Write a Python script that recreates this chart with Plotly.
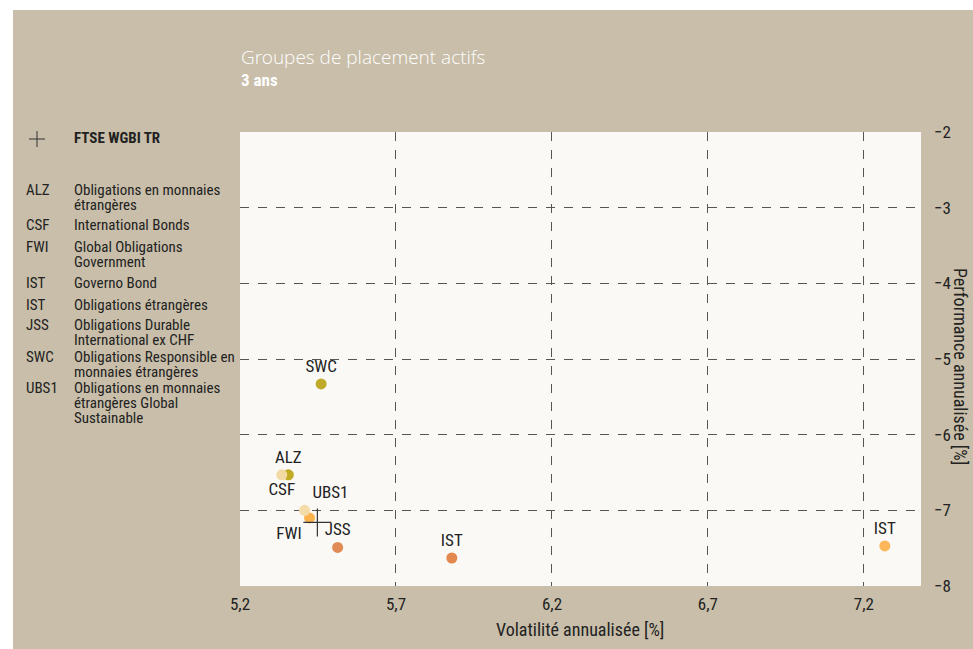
import plotly.graph_objects as go

# ---- data ----
codes = ["ALZ", "CSF", "FWI", "IST", "IST", "JSS", "SWC", "UBS1"]
descriptions = [
    "Obligations en monnaies<br>étrangères",
    "International Bonds",
    "Global Obligations<br>Government",
    "Governo Bond",
    "Obligations étrangères",
    "Obligations Durable<br>International ex CHF",
    "Obligations Responsible en<br>monnaies étrangères",
    "Obligations en monnaies<br>étrangères Global<br>Sustainable",
]
volatility = [5.355, 5.334, 5.423, 7.267, 5.879, 5.513, 5.460, 5.407]
performance = [-6.53, -6.53, -7.10, -7.47, -7.63, -7.49, -5.33, -7.00]
colors = ["#C2AB24", "#F2DAA2", "#FBB34E", "#FDB65A", "#E3894F", "#E28A56", "#C0AA2A", "#F3DCA8"]
label_pos = ["top center", "bottom center", "bottom left", "top center", "top center",
             "top center", "top center", "top right"]

benchmark_name = "FTSE WGBI TR"
benchmark_x = [5.448]
benchmark_y = [-7.16]

x_ticks = [5.2, 5.7, 6.2, 6.7, 7.2]
y_ticks = [-8, -7, -6, -5, -4, -3, -2]

title = "Groupes de placement actifs"
subtitle = "3 ans"
x_title = "Volatilité annualisée [%]"
y_title = "Performance annualisée [%]"

# ---- layout constants ----
W, H = 973, 649
L, R, T, B = 240, 52, 132, 63
PW, PH = W - L - R, H - T - B
BEIGE = "#C8BEA9"
FONT = "Liberation Sans Narrow, Arial Narrow, Roboto Condensed, sans-serif"
TXT = "#222222"


def px_x(px):
    return (px - L) / PW


def px_y(py):
    return 1 - (py - T) / PH


fig = go.Figure()

fig.add_trace(go.Scatter(
    x=volatility, y=performance, mode="markers+text",
    text=codes, textposition=label_pos,
    textfont=dict(family=FONT, size=17, color=TXT),
    marker=dict(size=11, color=colors, line=dict(width=0)),
    hoverinfo="text", hovertext=descriptions, showlegend=False,
))

fig.add_trace(go.Scatter(
    x=benchmark_x, y=benchmark_y, mode="markers",
    marker=dict(symbol="cross-thin-open", size=20, color="#333333",
                line=dict(width=1.2, color="#333333")),
    name=benchmark_name, showlegend=False,
))

annotations = []
# title
annotations.append(dict(xref="paper", yref="paper", x=px_x(239), y=px_y(57), xanchor="left",
                        yanchor="middle", text=title, showarrow=False,
                        font=dict(family="Open Sans Light, Open Sans, sans-serif", size=19, color="white")))
annotations.append(dict(xref="paper", yref="paper", x=px_x(239), y=px_y(80), xanchor="left",
                        yanchor="middle", text="<b>" + subtitle + "</b>", showarrow=False,
                        font=dict(family=FONT, size=17, color="white")))

# legend (left)
annotations.append(dict(xref="paper", yref="paper", x=px_x(72), y=px_y(138), xanchor="left",
                        yanchor="middle", text="<b>" + benchmark_name + "</b>", showarrow=False,
                        font=dict(family=FONT, size=15, color=TXT)))
legend_centers = [190, 225, 247, 283, 305, 325, 357, 388]
LINE = 15
for code, desc, yc in zip(codes, descriptions, legend_centers):
    annotations.append(dict(xref="paper", yref="paper", x=px_x(24), y=px_y(yc), xanchor="left",
                            yanchor="middle", text=code, showarrow=False,
                            font=dict(family=FONT, size=15, color=TXT)))
    for i, line in enumerate(desc.split("<br>")):
        annotations.append(dict(xref="paper", yref="paper", x=px_x(72), y=px_y(yc + i * LINE),
                                xanchor="left", yanchor="middle", text=line, showarrow=False,
                                font=dict(family=FONT, size=15, color=TXT)))

# axis titles
annotations.append(dict(xref="paper", yref="paper", x=px_x(580), y=px_y(629), xanchor="center",
                        yanchor="middle", text=x_title, showarrow=False,
                        font=dict(family=FONT, size=18, color=TXT)))
annotations.append(dict(xref="paper", yref="paper", x=px_x(961), y=px_y(366), xanchor="center",
                        yanchor="middle", text=y_title, showarrow=False, textangle=90,
                        font=dict(family=FONT, size=18, color=TXT)))

shapes = [
    dict(type="rect", xref="paper", yref="paper", x0=px_x(-5), x1=px_x(978), y0=px_y(-5), y1=px_y(10),
         fillcolor="white", line=dict(width=0), layer="below"),
    dict(type="rect", xref="paper", yref="paper", x0=px_x(-5), x1=px_x(13), y0=px_y(-5), y1=px_y(655),
         fillcolor="white", line=dict(width=0), layer="below"),
    # legend glyph for the benchmark cross
    dict(type="line", xref="paper", yref="paper", x0=px_x(29), x1=px_x(45), y0=px_y(139), y1=px_y(139),
         line=dict(width=1, color="#333333")),
    dict(type="line", xref="paper", yref="paper", x0=px_x(37), x1=px_x(37), y0=px_y(131), y1=px_y(147),
         line=dict(width=1, color="#333333")),
]

fig.update_layout(
    width=W, height=H, autosize=False,
    margin=dict(l=L, r=R, t=T, b=B, pad=0),
    paper_bgcolor=BEIGE, plot_bgcolor="#FAF9F6",
    separators=", ",
    font=dict(family=FONT, size=17, color=TXT),
    annotations=annotations, shapes=shapes,
    xaxis=dict(range=[5.2, 7.383], tickvals=x_ticks, tickformat=".1f",
               showgrid=True, gridcolor="#555555", griddash="dash", gridwidth=1,
               zeroline=False, showline=False, ticks="", ticklabelstandoff=6,
               tickfont=dict(family=FONT, size=17, color=TXT)),
    yaxis=dict(range=[-8, -2], tickvals=y_ticks, side="right",
               showgrid=True, gridcolor="#555555", griddash="dash", gridwidth=1,
               zeroline=False, showline=False, ticks="", ticklabelstandoff=12,
               tickfont=dict(family=FONT, size=17, color=TXT)),
    hovermode="closest",
)

fig.write_html("out.html", config={"displayModeBar": False},
               post_script="document.body.style.margin='0';document.body.style.overflow='hidden';")
